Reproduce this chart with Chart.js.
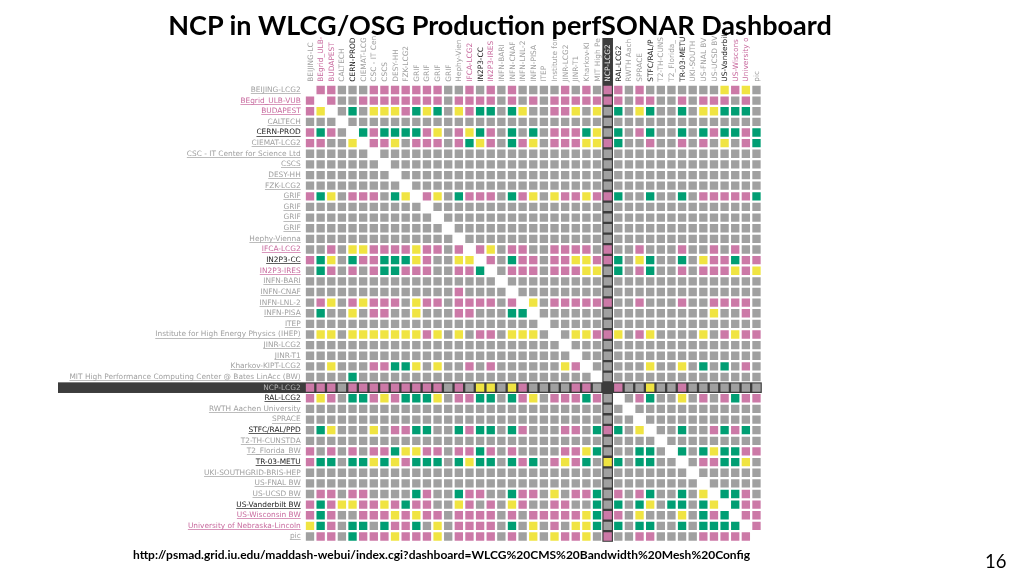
<!DOCTYPE html>
<html>
<head>
<meta charset="utf-8">
<title>NCP in WLCG/OSG Production perfSONAR Dashboard</title>
<script src="https://cdn.jsdelivr.net/npm/chart.js@4/dist/chart.umd.min.js"></script>
<style>
  html, body { margin: 0; padding: 0; background: #fff; }
  #wrap { position: relative; width: 1024px; height: 576px; overflow: hidden; }
  canvas { position: absolute; left: 0; top: 0; }
  .txt { position: absolute; font-family: Lato, sans-serif; color: #000; white-space: nowrap; }
  #title { left: 0; width: 1000px; top: 8px; text-align: center; font-size: 27px; font-weight: 700; }
  #url { left: 133px; top: 547px; font-size: 12px; font-weight: 700; }
  #page { left: 985px; top: 550px; font-size: 18.5px; }
</style>
</head>
<body>
<div id="wrap">
  <canvas id="grid" width="1024" height="576"></canvas>
  <div class="txt" id="title">NCP in WLCG/OSG Production perfSONAR Dashboard</div>
  <div class="txt" id="url">http://psmad.grid.iu.edu/maddash-webui/index.cgi?dashboard=WLCG%20CMS%20Bandwidth%20Mesh%20Config</div>
  <div class="txt" id="page">16</div>
</div>
<script>
const rowLabels = [
  "BEIJING-LCG2", "BEgrid_ULB-VUB", "BUDAPEST", "CALTECH", "CERN-PROD", "CIEMAT-LCG2",
  "CSC - IT Center for Science Ltd", "CSCS", "DESY-HH", "FZK-LCG2", "GRIF", "GRIF", "GRIF", "GRIF",
  "Hephy-Vienna", "IFCA-LCG2", "IN2P3-CC", "IN2P3-IRES", "INFN-BARI", "INFN-CNAF", "INFN-LNL-2",
  "INFN-PISA", "ITEP", "Institute for High Energy Physics (IHEP)", "JINR-LCG2", "JINR-T1",
  "Kharkov-KIPT-LCG2", "MIT High Performance Computing Center @ Bates LinAcc (BW)", "NCP-LCG2",
  "RAL-LCG2", "RWTH Aachen University", "SPRACE", "STFC/RAL/PPD", "T2-TH-CUNSTDA", "T2_Florida_BW",
  "TR-03-METU", "UKI-SOUTHGRID-BRIS-HEP", "US-FNAL BW", "US-UCSD BW", "US-Vanderbilt BW",
  "US-Wisconsin BW", "University of Nebraska-Lincoln", "pic"
];

// column headers are cut off in the page, so they stay cut off here
const colLabels = [
  "BEIJING-LC", "BEgrid_ULB-", "BUDAPEST", "CALTECH", "CERN-PROD", "CIEMAT-LCG",
  "CSC - IT Cen", "CSCS", "DESY-HH", "FZK-LCG2", "GRIF", "GRIF", "GRIF", "GRIF",
  "Hephy-Vien", "IFCA-LCG2", "IN2P3-CC", "IN2P3-IRES", "INFN-BARI", "INFN-CNAF", "INFN-LNL-2",
  "INFN-PISA", "ITEP", "Institute for", "JINR-LCG2", "JINR-T1",
  "Kharkov-KI", "MIT High Pe", "NCP-LCG2",
  "RAL-LCG2", "RWTH Aach", "SPRACE", "STFC/RAL/P", "T2-TH-CUNS", "T2_Florida_",
  "TR-03-METU", "UKI-SOUTH", "US-FNAL BV", "US-UCSD BV", "US-Vanderbilt",
  "US-Wiscons", "University o", "pic"
];

const blackSites = ["CERN-PROD", "IN2P3-CC", "RAL-LCG2", "STFC/RAL/PPD", "STFC/RAL/P", "TR-03-METU", "US-Vanderbilt BW", "US-Vanderbilt"];
const pinkSites = ["BEgrid_ULB-VUB", "BEgrid_ULB-", "BUDAPEST", "IFCA-LCG2", "IN2P3-IRES", "US-Wisconsin BW", "US-Wiscons", "University of Nebraska-Lincoln", "University o"];

const ncpIndex = 28;

// g grey, p pink, y yellow, e green, . no cell. One string per row, ten columns a group
const statusRows = [
  ".ppgggpppp pppggpgpgp ggggpgpgpp gpgggggggypyg",
  "p.pggppppp pppgppppgp gpgppppppp gppggpgpppgpg",
  "py.gegyyyp eyegypeege yggppygyge gyeggegyyeeeg",
  "ggg.gggggg gggggggggg gggggggggg ggggggggggggg",
  "pepg.epeee epygpyepge gegpppeyge gpeggegepeepe",
  "ppggy.ppyg pppgpeypge pygpppyype ggpggpgpgygpe",
  "gggggg.ggg gggggggggg gggggggggg ggggggggggggg",
  "ggggggg.gg gggggggggg gggggggggg ggggggggggggg",
  "gggggggg.g gggggggggg gggggggggg ggggggggggggg",
  "ggggggggg. gggggggggg gggggggggg ggggggggggggg",
  "peygpppgey .pygepppge pygyppyppe ggeggegpppppe",
  "gggggggggg g.gggggggg gggggggggg ggggggggggggg",
  "gggggggggg gg.ggggggg gggggggggg ggggggggggggg",
  "gggggggggg ggg.gggggg gggggggggg ggggggggggggg",
  "gggggggggg gggg.ggggg gggggggggg ggggggggggggg",
  "ggpgyypppp yppgp.pygp pggppppgpg gpgggpggpgpgg",
  "peygeppeee ypggyy.pge ppgppyyppe gyeggegyppepp",
  "gepgpgpeep ppggppe.gp ppgpppyyge gpeggpgpppypy",
  "gggggggggg gggggggg.g gggggggggg ggggggggggggg",
  "gggggggggg ggggpgggg. gggggggggg ggggggggggggg",
  "gpygpypppg yppgppppgp .ygppppppg gpgggpggppppg",
  "geggygppgg ygggppggge e.gggggggg ggggggggyggpg",
  "gggggggggg gggggggggg gg.ggggggg ggggggggggggg",
  "gyygyyyyyy ypygygppgy yyg.gyyppy gpyggggygpypp",
  "gggggggggg gggggggggg gggg.ggggg ggggggggggggg",
  "gggggggggg gggggggggg ggggg.gggg ggggggggggggg",
  "ggygggppee ygyggpgpgg ggggyp.ggg ggyggygegegpg",
  "ggggeggggg gggggggggg ggggggg.gg ggggggggggggg",
  "pppgpppppp pppgpgyygy pggggppg.p ggyggpggggggg",
  "pypgeepype eeygppeege pygpppepg. gpeggygpgpepp",
  "gggggggggg gggggggggg gggggggggg .gggggggggggg",
  "gggggggggg gggggggggg gggggggggg g.ggggggggggg",
  "geygggygpp eeggepeege pgggppgepe gy.ggeggpepeg",
  "gggggggggg gggggggggg gggggggggg ggg.ggggggggg",
  "pgpgpgppey yppgppepgp ggggppyegg geeg.egeyeepp",
  "peegeeyeyp eeegeyeege pegpypegye geegg.gppeeyg",
  "gggggggggg gggggggggg gggggggggg gggggg.gggggg",
  "gggggggggg gggggggggg gggggggggg ggggggg.ggggg",
  "gppgppgggg epggeppgge ppgygppegp gpeggegy.eepg",
  "pepyyppype ppggypgpgy pggppggege geygeegey.epp",
  "pepggpppyp yppgppppgp gpppppyepp gygggygepe.pp",
  "yepgeegepp egygppppge gygpgyyege geeggegeeee.p",
  "gppgepppyp ppygppppgp gygyppygpg gppggggppppp."
];

const statusColors = { g: "#a0a0a0", p: "#cc79a7", y: "#f0e442", e: "#009e73" };
const tickFont = { family: "DejaVu Sans", size: 7.4 };

function labelColor(name) {
  if (blackSites.includes(name)) return "#1c1c1c";
  if (pinkSites.includes(name)) return "#c86a9e";
  return "#a0a0a0";
}

// one dataset per status, only the cells that have that status
function cellsFor(code) {
  const cells = [];
  statusRows.forEach((row, y) => {
    row.replace(/ /g, "").split("").forEach((c, x) => {
      if (c === code && !(x === ncpIndex && y === ncpIndex)) cells.push({ x, y });
    });
  });
  return cells;
}

const ncpBands = {
  id: "ncpBands",
  beforeDraw(chart) {
    const { ctx, scales } = chart;
    const half = (scales.x.getPixelForValue(1) - scales.x.getPixelForValue(0)) / 2;
    const cx = scales.x.getPixelForValue(ncpIndex);
    const cy = scales.y.getPixelForValue(ncpIndex);
    ctx.save();
    ctx.fillStyle = "#3c3c3c";
    ctx.fillRect(58, cy - half, scales.x.right - 58, half * 2);
    ctx.fillRect(cx - half, 38, half * 2, scales.y.bottom - 38);
    ctx.restore();
  },
  afterDraw(chart) {
    // the site names are links in the page
    const { ctx, scales } = chart;
    ctx.save();
    ctx.font = tickFont.size + "px '" + tickFont.family + "'";
    rowLabels.forEach((name, i) => {
      if (i === ncpIndex) return;
      const w = ctx.measureText(name).width;
      const y = Math.round(scales.y.getPixelForValue(i)) + 3;
      ctx.fillStyle = labelColor(name);
      ctx.globalAlpha = 0.7;
      ctx.fillRect(scales.x.left - 4 - w, y, w, 1);
    });
    ctx.restore();
  }
};

new Chart(document.getElementById("grid"), {
  type: "scatter",
  data: {
    datasets: Object.keys(statusColors).map(code => ({
      label: code,
      data: cellsFor(code),
      backgroundColor: statusColors[code],
      borderWidth: 0,
      pointStyle: "rect",
      pointRadius: 5.9,
      pointHoverRadius: 5.9
    }))
  },
  options: {
    responsive: false,
    animation: false,
    layout: { padding: { left: 4.7, top: 24.7, right: 262.2, bottom: 34.2 } },
    plugins: { legend: { display: false }, tooltip: { enabled: false } },
    scales: {
      x: {
        type: "linear",
        position: "top",
        min: -0.5,
        max: 42.5,
        grid: { display: false, drawTicks: false },
        border: { display: false },
        afterBuildTicks: axis => { axis.ticks = colLabels.map((_, i) => ({ value: i })); },
        afterFit: axis => { axis.height = 60; },
        ticks: {
          autoSkip: false,
          minRotation: 90,
          maxRotation: 90,
          padding: 3,
          labelOffset: 9.5,
          font: tickFont,
          callback: v => colLabels[v],
          color: c => c.index === ncpIndex ? "#e6e6e6" : labelColor(colLabels[c.index])
        }
      },
      y: {
        type: "linear",
        reverse: true,
        min: -0.5,
        max: 42.5,
        grid: { display: false, drawTicks: false },
        border: { display: false },
        afterBuildTicks: axis => { axis.ticks = rowLabels.map((_, i) => ({ value: i })); },
        afterFit: axis => { axis.width = 300; },
        ticks: {
          autoSkip: false,
          padding: 4,
          font: tickFont,
          callback: v => rowLabels[v],
          color: c => c.index === ncpIndex ? "#b4b4b4" : labelColor(rowLabels[c.index])
        }
      }
    }
  },
  plugins: [ncpBands]
});
</script>
</body>
</html>
